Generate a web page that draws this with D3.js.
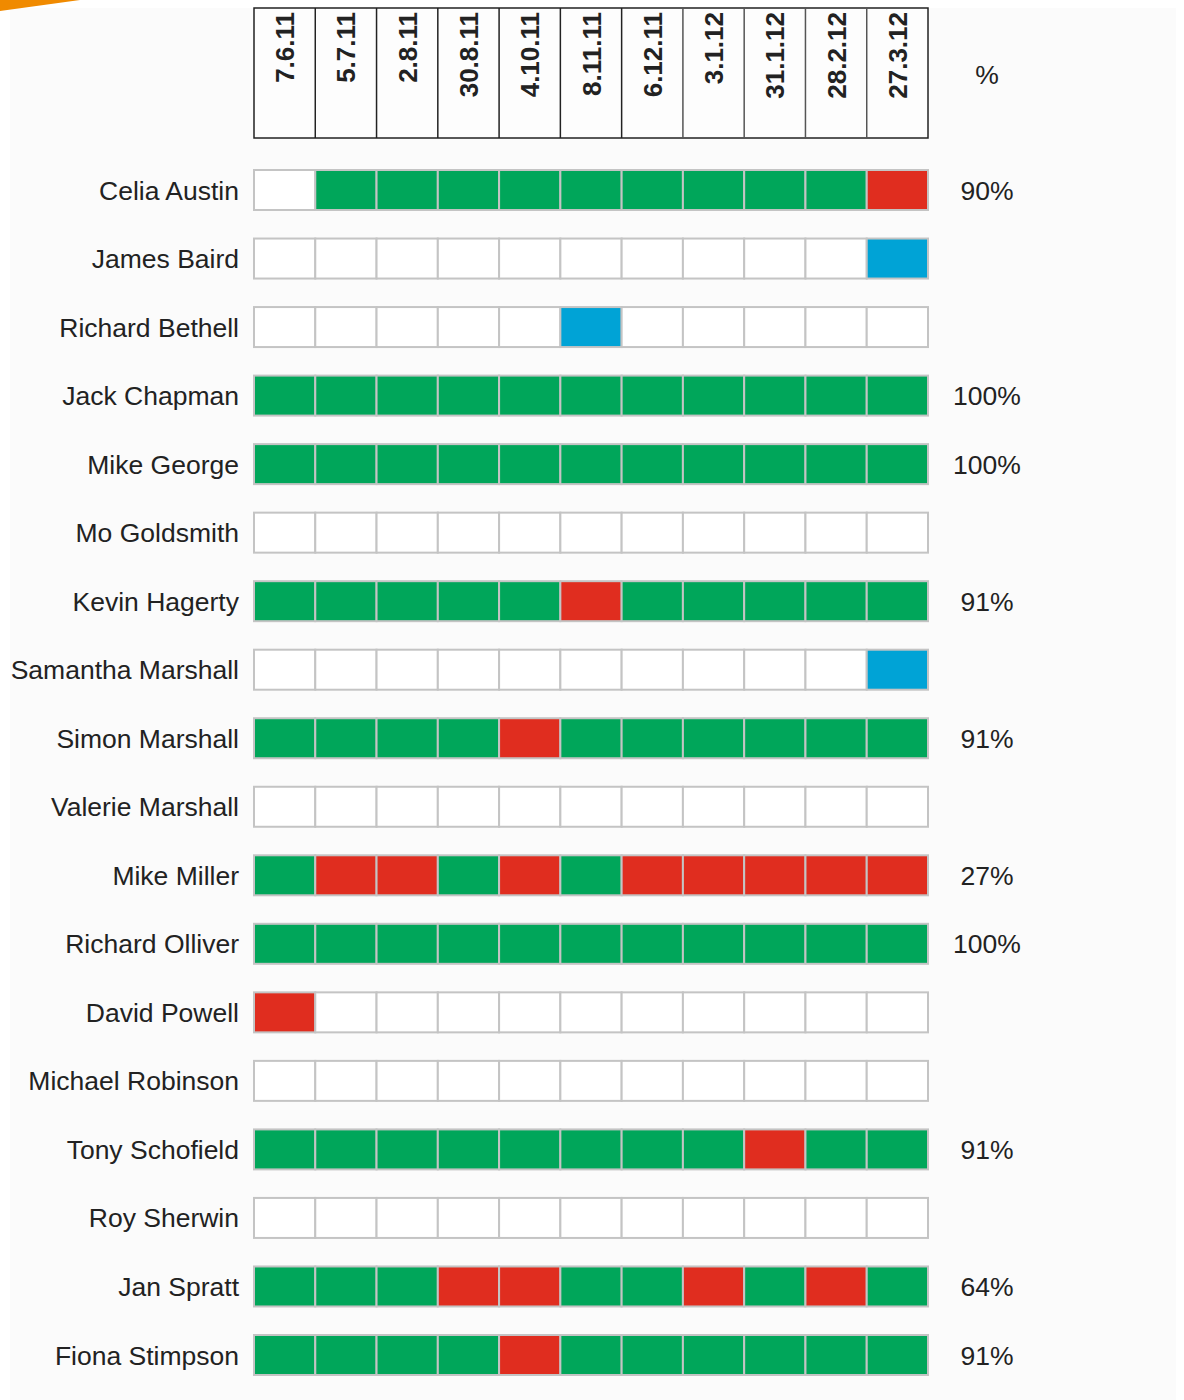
<!DOCTYPE html>
<html><head><meta charset="utf-8">
<script src="https://cdn.jsdelivr.net/npm/d3@7/dist/d3.min.js"></script>
<style>body{margin:0;background:#fff;}svg{display:block;}</style>
</head><body><svg id="chart" width="1184" height="1400"></svg>
<script>
const dates = ["7.6.11","5.7.11","2.8.11","30.8.11","4.10.11","8.11.11","6.12.11","3.1.12","31.1.12","28.2.12","27.3.12"];
const names = ["Celia Austin","James Baird","Richard Bethell","Jack Chapman","Mike George","Mo Goldsmith","Kevin Hagerty","Samantha Marshall","Simon Marshall","Valerie Marshall","Mike Miller","Richard Olliver","David Powell","Michael Robinson","Tony Schofield","Roy Sherwin","Jan Spratt","Fiona Stimpson"];
// W = no entry, G = attended, R = absent, B = other
const status = [
  "WGGGGGGGGGR",
  "WWWWWWWWWWB",
  "WWWWWBWWWWW",
  "GGGGGGGGGGG",
  "GGGGGGGGGGG",
  "WWWWWWWWWWW",
  "GGGGGRGGGGG",
  "WWWWWWWWWWB",
  "GGGGRGGGGGG",
  "WWWWWWWWWWW",
  "GRRGRGRRRRR",
  "GGGGGGGGGGG",
  "RWWWWWWWWWW",
  "WWWWWWWWWWW",
  "GGGGGGGGRGG",
  "WWWWWWWWWWW",
  "GGGRRGGRGRG",
  "GGGGRGGGGGG"
];
const percents = ["90%","","","100%","100%","","91%","","91%","","27%","100%","","","91%","","64%","91%"];
const pctHeader = "%";

const colors = {W:"#ffffff", G:"#00a65a", R:"#e02d1f", B:"#00a3d6"};
const FONT = "Liberation Sans, Arial, Helvetica, sans-serif";

const svg = d3.select("#chart");
// panel background
svg.append("rect").attr("x",10).attr("y",8).attr("width",1166).attr("height",1392).attr("fill","#fbfbfb");
// orange corner decoration
svg.append("path").attr("d","M0,0 L80,0 L0,11 Z").attr("fill","#f08a00");

const x = d3.scaleBand().domain(dates).range([254, 928]).padding(0);
const y = d3.scaleBand().domain(names).range([156.3, 1388.7]).paddingInner(0.4163).paddingOuter(0.2);

// header
const hdr = svg.append("g");
hdr.append("rect").attr("x",254).attr("y",8).attr("width",674).attr("height",130)
  .attr("fill","#fdfdfd").attr("stroke","#222").attr("stroke-width",1.5);
hdr.selectAll("line.col").data(dates.slice(1)).join("line")
  .attr("x1",d=>x(d)).attr("x2",d=>x(d)).attr("y1",8).attr("y2",138)
  .attr("stroke",(d,i)=> i<6 ? "#222" : "#555").attr("stroke-width",1.5);
hdr.selectAll("text").data(dates).join("text")
  .attr("transform",d=>`translate(${x(d)+x.bandwidth()/2+9.5},12) rotate(-90)`)
  .attr("text-anchor","end")
  .attr("font-family",FONT)
  .attr("font-weight","bold").attr("font-size",26).attr("fill","#222")
  .text(d=>d);
svg.append("text").attr("x",987).attr("y",84).attr("text-anchor","middle")
  .attr("font-family",FONT).attr("font-size",26.5).attr("fill","#222")
  .text(pctHeader);

// rows
const rows = svg.selectAll("g.row").data(names).join("g").attr("class","row")
  .attr("transform",d=>`translate(0,${y(d)})`);
rows.append("text").attr("x",239).attr("y",y.bandwidth()/2).attr("dy","0.36em")
  .attr("text-anchor","end").attr("font-family",FONT)
  .attr("font-size",26.5).attr("fill","#222").text(d=>d);
rows.selectAll("rect").data((d,i)=>dates.map((dt,j)=>({dt, s:status[i][j]}))).join("rect")
  .attr("x",d=>x(d.dt)).attr("y",0).attr("width",x.bandwidth()).attr("height",y.bandwidth())
  .attr("fill",d=>colors[d.s]).attr("stroke","#c4c4c4").attr("stroke-width",2);
rows.append("text").attr("x",987).attr("y",y.bandwidth()/2).attr("dy","0.36em")
  .attr("text-anchor","middle").attr("font-family",FONT)
  .attr("font-size",26.5).attr("fill","#222").text((d,i)=>percents[i]);
</script></body></html>
